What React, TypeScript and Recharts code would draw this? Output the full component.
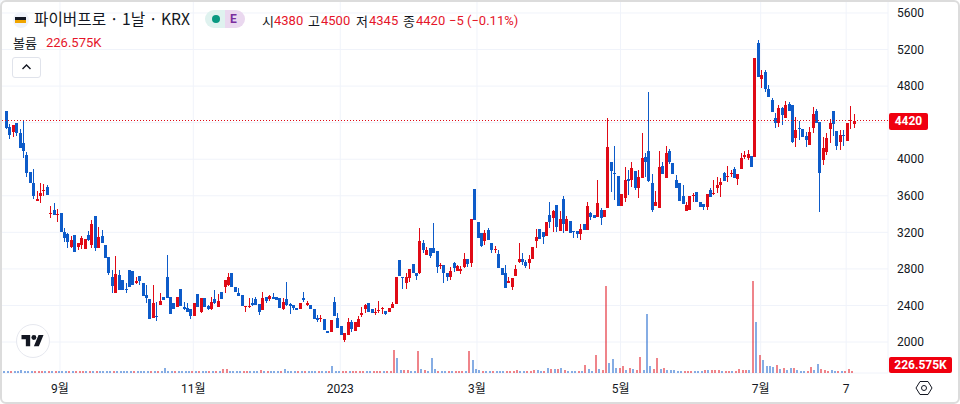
import React from "react";
import { Bar, CartesianGrid, ComposedChart, ReferenceLine, XAxis, YAxis } from "recharts";

type Row = [number, number, number, number, number];
// [open, high, low, close, volume in thousands]
const augRows: Row[] = [
  [4530,4530,4330,4340,226],[4355,4385,4220,4265,226],[4300,4375,4245,4375,226],[4395,4395,4255,4285,226],[4285,4330,4125,4125,226],[4180,4430,4015,4090,339],[4045,4080,3805,3850,226],[3860,3860,3740,3740,226],
  [3740,3895,3565,3600,226],[3545,3655,3545,3565,226],[3600,3740,3520,3630,226],[3655,3730,3600,3665,226],[3695,3720,3610,3610,226],[3400,3490,3355,3410,226],[3445,3520,3390,3390,226],[3390,3455,3315,3400,226],
];
const sepOctRows: Row[] = [
  [3410,3410,3205,3205,226],[3205,3250,3095,3140,226],[3180,3195,3030,3095,226],[3040,3160,3030,3115,226],[3170,3170,2985,2985,226],[3040,3085,3005,3085,226],[3060,3160,3020,3140,226],[3020,3125,3020,3125,226],
  [3170,3215,3105,3115,226],[3060,3335,3030,3290,226],[3380,3380,2995,3030,226],[3030,3260,3030,3150,226],[3160,3225,3085,3085,226],[3060,3060,2920,2920,226],[2930,2930,2735,2755,226],[2710,2790,2535,2615,226],
  [2535,2940,2535,2745,226],[2735,2790,2570,2570,226],[2680,2680,2570,2570,226],[2580,2645,2535,2570,226],[2790,2790,2600,2600,226],[2775,2775,2625,2625,226],[2645,2710,2635,2670,226],[2725,2725,2625,2670,226],
  [2645,2645,2505,2505,226],[2515,2625,2425,2480,226],[2470,2470,2250,2250,226],[2265,2625,2265,2425,226],[2285,2440,2230,2275,226],[2405,2535,2405,2450,226],[2495,2495,2460,2460,226],[2710,2950,2480,2480,565],
  [2495,2495,2305,2305,226],[2425,2425,2360,2360,226],[2385,2495,2385,2495,226],[2580,2580,2395,2395,226],[2385,2440,2350,2360,226],[2370,2425,2330,2330,226],[2360,2360,2250,2285,226],
];
const novDecRows: Row[] = [
  [2285,2425,2285,2425,226],[2525,2525,2385,2385,226],[2330,2480,2320,2480,226],[2480,2480,2385,2385,226],[2395,2405,2350,2360,226],[2360,2495,2350,2440,226],[2470,2570,2415,2425,226],[2385,2525,2385,2450,226],
  [2545,2545,2470,2470,226],[2600,2680,2535,2680,452],[2625,2755,2615,2710,452],[2755,2755,2600,2600,226],[2600,2600,2545,2545,226],[2535,2590,2505,2505,226],[2515,2515,2395,2395,226],[2385,2395,2330,2395,226],
  [2385,2480,2370,2395,226],[2425,2480,2395,2405,226],[2470,2495,2405,2405,226],[2415,2415,2295,2330,226],[2350,2545,2350,2480,339],[2495,2495,2425,2450,226],[2470,2515,2450,2505,226],[2495,2535,2470,2470,226],
  [2495,2495,2460,2460,226],[2480,2480,2370,2370,226],[2360,2480,2350,2440,226],[2470,2655,2395,2405,452],[2415,2425,2305,2395,226],[2405,2405,2350,2370,226],[2370,2370,2350,2350,226],[2360,2425,2360,2425,226],
  [2480,2545,2440,2460,226],[2405,2450,2395,2425,226],[2405,2405,2360,2360,226],[2360,2360,2250,2250,226],[2265,2295,2220,2240,226],[2250,2295,2220,2265,226],[2250,2250,2130,2130,226],[2120,2120,2100,2100,226],
  [2110,2240,2110,2240,226],[2440,2495,2285,2285,791],[2265,2320,2155,2155,226],
];
const janFebRows: Row[] = [
  [2175,2175,2075,2075,226],[2020,2100,2000,2100,226],[2075,2265,2075,2220,226],[2220,2240,2110,2145,226],[2120,2220,2120,2220,226],[2165,2285,2165,2250,226],[2295,2385,2275,2320,226],[2360,2415,2320,2405,226],
  [2425,2425,2330,2330,226],[2360,2360,2320,2320,226],[2320,2370,2295,2330,226],[2340,2450,2320,2350,226],[2360,2385,2305,2370,226],[2340,2340,2295,2305,226],[2330,2370,2330,2370,226],[2370,2440,2370,2415,226],
  [2415,2710,2415,2710,2599],[2900,2900,2725,2725,1695],[2710,2710,2580,2700,339],[2645,2755,2580,2710,339],[2700,2800,2655,2800,339],[2855,2855,2755,2755,226],[2755,2755,2680,2725,226],[2755,3250,2745,3105,2486],
  [3085,3115,2975,3005,452],[2950,3040,2950,3005,339],[3030,3030,2920,2940,226],[3030,3305,2975,2975,1695],[2995,2995,2755,2820,452],[2830,2865,2800,2845,226],[2845,2845,2645,2755,226],[2755,2755,2670,2710,226],
  [2710,2820,2680,2775,226],[2865,2875,2765,2810,226],[2775,2845,2775,2830,226],[2775,2830,2745,2800,226],[2820,2975,2810,2910,226],[2910,2910,2820,2855,226],[2865,3345,2820,3345,2486],[3675,3675,3335,3335,1469],
];
const marAprRows: Row[] = [
  [3315,3315,3140,3140,452],[3195,3195,3040,3050,339],[3105,3225,3060,3195,226],[3225,3250,3115,3115,226],[3085,3085,2975,3005,226],[3005,3050,2975,3020,226],[2965,3005,2810,2810,226],[2810,2810,2735,2735,226],
  [2755,2845,2590,2590,226],[2645,2710,2645,2670,226],[2600,2700,2570,2700,226],[2725,2845,2725,2800,226],[2875,3085,2865,2910,339],[2910,2975,2845,2875,226],[2875,2900,2810,2830,226],[2865,2950,2800,2910,226],
  [2910,3040,2910,3040,226],[3105,3235,3030,3150,339],[3235,3235,3125,3125,339],[3205,3205,3075,3150,226],[3160,3315,3160,3315,226],[3390,3530,3250,3315,565],[3355,3445,3205,3435,452],[3500,3500,3205,3260,452],
  [3215,3435,3215,3345,452],[3565,3600,3195,3290,565],[3215,3380,3215,3345,339],[3325,3325,3195,3195,226],[3215,3215,3140,3205,226],[3215,3215,3140,3180,226],[3180,3290,3115,3235,226],[3290,3290,3225,3225,226],
  [3225,3530,3225,3490,904],[3410,3425,3335,3370,452],[3390,3390,3355,3355,226],[3370,3775,3370,3520,2034],[3445,3465,3280,3355,452],[3370,3445,3370,3445,339],[3465,4450,3465,4135,9831],[3970,3970,3640,3870,1130],
  [3850,4145,3555,3840,1582],[3815,3815,3490,3490,565],
];
const mayJunRows: Row[] = [
  [3490,3620,3490,3620,565],[3575,3915,3530,3775,791],[3785,3880,3610,3760,339],[3775,3970,3695,3905,565],[3870,3870,3665,3685,452],[3685,3880,3575,3805,339],[3795,4285,3795,4015,1808],[4025,4070,3805,3970,339],
  [4090,4735,3750,3760,6667],[3740,3840,3425,3445,791],[3490,3650,3490,3530,452],[3465,4090,3465,3915,1695],[3925,3970,3840,3840,452],[3795,4145,3795,4070,565],[4090,4110,3950,3970,339],[3960,3960,3840,3840,339],
  [3775,3830,3685,3685,339],[3740,3740,3545,3545,226],[3600,3720,3510,3510,226],[3435,3530,3435,3500,226],[3445,3600,3445,3600,226],[3600,3630,3530,3610,226],[3640,3640,3530,3530,226],[3530,3530,3475,3475,226],
  [3510,3510,3445,3475,226],[3475,3620,3445,3620,339],[3665,3685,3585,3585,339],[3620,3775,3610,3630,339],[3685,3805,3630,3720,339],[3720,3795,3585,3750,339],[3850,3860,3760,3760,226],[3805,3925,3750,3815,226],
  [3840,3880,3805,3850,226],[3895,3915,3795,3795,226],[3785,3840,3720,3840,226],[3895,4070,3895,4015,452],[4025,4090,4005,4045,339],[4015,4100,3990,4055,339],[4035,4035,3915,3915,339],[4025,5105,4025,5105,10396],
  [5270,5305,4900,4900,5763],
];
const julAugRows: Row[] = [
  [4880,4975,4780,4920,2034],[4955,4975,4735,4770,1469],[4770,4810,4680,4680,791],[4650,4670,4515,4515,791],[4450,4505,4340,4395,678],[4395,4595,4355,4560,904],[4560,4570,4375,4485,452],[4450,4635,4450,4595,565],
  [4605,4625,4530,4530,339],[4595,4595,4180,4190,565],[4230,4460,4135,4320,565],[4340,4420,4210,4330,339],[4330,4330,4245,4245,226],[4255,4300,4135,4210,226],[4155,4355,4155,4300,226],[4340,4570,4285,4495,678],
  [4530,4550,4395,4395,339],[4405,4405,3420,3850,1017],[3990,4245,3935,4125,452],[4080,4285,4045,4230,339],[4330,4440,4180,4395,226],[4530,4530,4255,4385,339],[4310,4310,4100,4145,226],[4190,4320,4100,4265,226],
  [4265,4320,4145,4255,226],[4200,4395,4200,4395,226],[4415,4580,4330,4430,452],[4380,4500,4345,4420,226.575],
];
const priceTicks = [5600, 5200, 4800, 4400, 4000, 3600, 3200, 2800, 2400, 2000];
const hiddenPriceTick = 4400;
const timeTickIndex = [16, 55, 98, 138, 180, 221, 246];
const timeTickLabel = ["9월", "11월", "2023", "3월", "5월", "7월", "7"];
const lastClose = 4420;

const UP = "#e00a16";
const DOWN = "#0d5bc9";
const rows = [...augRows, ...sepOctRows, ...novDecRows, ...janFebRows, ...marAprRows, ...mayJunRows, ...julAugRows];
const data = rows.map(([o, h, l, c, v], i) => ({ i, o, h, l, c, v, range: [l, h] }));

const Candle = (p: any) => {
  const { x, y, width, height, payload } = p;
  const { o, h, l, c } = payload;
  const k = h > l ? height / (h - l) : 0;
  const cx = Math.round(x + width / 2);
  const top = y + (h - Math.max(o, c)) * k;
  const bot = y + (h - Math.min(o, c)) * k;
  const yt = Math.round(top);
  const bh = Math.max(1, Math.round(bot) - yt);
  const col = c >= o ? UP : DOWN;
  return (
    <g shapeRendering="crispEdges">
      <rect x={cx} y={Math.round(y)} width={1} height={Math.max(1, Math.round(height))} fill={col} />
      <rect x={cx - 1} y={yt} width={3} height={bh} fill={col} />
    </g>
  );
};

const VolBar = (p: any) => {
  const { x, y, width, height, payload } = p;
  const col = payload.c >= payload.o ? UP : DOWN;
  const cx = Math.round(x + width / 2);
  return <rect shapeRendering="crispEdges" x={cx - 1} y={y} width={2} height={height} fill={col} fillOpacity={0.5} />;
};

const font = "Roboto, 'Noto Sans CJK KR', sans-serif";
const abs = (left: number, top: number, extra: React.CSSProperties = {}): React.CSSProperties => ({
  position: "absolute", left, top, lineHeight: "16px", whiteSpace: "nowrap", fontSize: 13, ...extra,
});
const red = "#e5152a";
const ink = "#131722";
const cjk = "'Noto Sans CJK KR', sans-serif";

export default function App() {
  return (
    <div style={{ position: "absolute", left: 0, top: 0, width: 960, height: 404, overflow: "hidden", background: "#fff", fontFamily: font, color: ink }}>
      <ComposedChart width={960} height={404} data={data} margin={{ top: 0, right: 0, bottom: 0, left: 0 }}>
        <CartesianGrid xAxisId="t" yAxisId="price" stroke="#f0f3fa" strokeWidth={1} />
        <XAxis
          xAxisId="t"
          dataKey="i"
          type="number"
          scale="linear"
          domain={[-1.55, 258.25]}
          allowDataOverflow
          ticks={timeTickIndex}
          interval={0}
          tickFormatter={(v: number) => timeTickLabel[timeTickIndex.indexOf(v)]}
          height={31}
          axisLine={false}
          tickLine={false}
          tickMargin={5}
          tick={{ fill: ink, fontSize: 12, fontFamily: font }}
        />
        <YAxis
          yAxisId="price"
          orientation="right"
          width={72}
          domain={[1661, 5742]}
          allowDataOverflow
          ticks={priceTicks}
          interval={0}
          tickFormatter={(v: number) => (v === hiddenPriceTick ? "" : String(v))}
          axisLine={false}
          tickLine={false}
          tickMargin={3}
          tick={{ fill: ink, fontSize: 12, fontFamily: font }}
        />
        <YAxis yAxisId="vol" hide domain={[0, 42150]} allowDataOverflow />
        <Bar xAxisId="t" yAxisId="vol" dataKey="v" barSize={2} shape={VolBar} isAnimationActive={false} />
        <Bar xAxisId="t" yAxisId="price" dataKey="range" barSize={3} shape={Candle} isAnimationActive={false} />
        <ReferenceLine xAxisId="t" yAxisId="price" y={lastClose} stroke={UP} strokeWidth={1} strokeDasharray="1 2" shapeRendering="crispEdges" />
      </ComposedChart>

      <svg width="16" height="16" style={{ position: "absolute", left: 13, top: 12 }} viewBox="0 0 16 16">
        <circle cx="8" cy="8" r="8" fill="#f0f3fa" />
        <rect x="2" y="5" width="11" height="3" fill="#131722" />
        <rect x="2" y="8" width="11" height="3" fill="#f0a500" />
      </svg>
      <div style={abs(34, 9, { fontSize: 15.7, lineHeight: "20px", fontFamily: "'Noto Sans CJK KR', Roboto, sans-serif" })}>파이버프로 · 1날 · KRX</div>
      <div style={{ position: "absolute", left: 205, top: 10, width: 20, height: 18, background: "#dff2ef", borderRadius: "9px 0 0 9px" }} />
      <div style={{ position: "absolute", left: 225, top: 10, width: 20, height: 18, background: "#ead8ef", borderRadius: "0 9px 9px 0" }} />
      <div style={{ position: "absolute", left: 212, top: 15, width: 8, height: 8, background: "#089981", borderRadius: 4 }} />
      <div style={abs(230, 11, { color: "#7b2d9e", fontWeight: 700, fontSize: 12 })}>E</div>

      <div style={abs(262, 13, { fontFamily: cjk })}>시</div>
      <div style={abs(274, 13, { color: red })}>4380</div>
      <div style={abs(308, 13, { fontFamily: cjk })}>고</div>
      <div style={abs(321, 13, { color: red })}>4500</div>
      <div style={abs(356, 13, { fontFamily: cjk })}>저</div>
      <div style={abs(369, 13, { color: red })}>4345</div>
      <div style={abs(403, 13, { fontFamily: cjk })}>종</div>
      <div style={abs(416, 13, { color: red })}>4420</div>
      <div style={abs(449, 13, { color: red })}>−5 (−0.11%)</div>

      <div style={abs(13, 35, { fontFamily: cjk })}>볼륨</div>
      <div style={abs(46, 35, { color: red })}>226.575K</div>

      <div style={{ position: "absolute", left: 12, top: 57, width: 29, height: 21, boxSizing: "border-box", border: "1px solid #e0e3eb", borderRadius: 3 }}>
        <svg width="27" height="19" viewBox="0 0 27 19" style={{ display: "block" }}>
          <path d="M9.5 11 L13.5 7 L17.5 11" fill="none" stroke="#131722" strokeWidth="1.4" />
        </svg>
      </div>

      <svg width="36" height="36" style={{ position: "absolute", left: 15, top: 323 }} viewBox="0 0 36 36">
        <circle cx="18" cy="18" r="16.5" fill="#fff" stroke="#e6e8ef" strokeWidth="1" />
        <g transform="translate(6.5,9.5) scale(0.62)">
          <path d="M14 22H7V11H0V4h14v18zM28 22h-8l7.5-18h8L28 22z" fill="#131722" />
          <circle cx="20" cy="8" r="4" fill="#131722" />
        </g>
      </svg>

      <div style={{ position: "absolute", left: 889, top: 113, width: 39, height: 17, background: "#f0000f", borderRadius: 2, color: "#fff", fontSize: 12, fontWeight: 700, lineHeight: "17px", textAlign: "center" }}>4420</div>
      <div style={{ position: "absolute", left: 889, top: 357, width: 63, height: 16, background: "#f0000f", borderRadius: 2, color: "#fff", fontSize: 12, fontWeight: 700, lineHeight: "16px", textAlign: "center" }}>226.575K</div>

      <svg width="18" height="18" style={{ position: "absolute", left: 915, top: 379 }} viewBox="0 0 18 18">
        <path d="M5 2.5 H13 L17 9 L13 15.5 H5 L1 9 Z" fill="none" stroke="#131722" strokeWidth="1" />
        <circle cx="9" cy="9" r="2.5" fill="none" stroke="#131722" strokeWidth="1" />
      </svg>

      <div style={{ position: "absolute", left: 0, top: 0, width: 960, height: 404, boxSizing: "border-box", border: "2px solid #dcdcdc", borderRadius: 6, pointerEvents: "none" }} />
    </div>
  );
}
